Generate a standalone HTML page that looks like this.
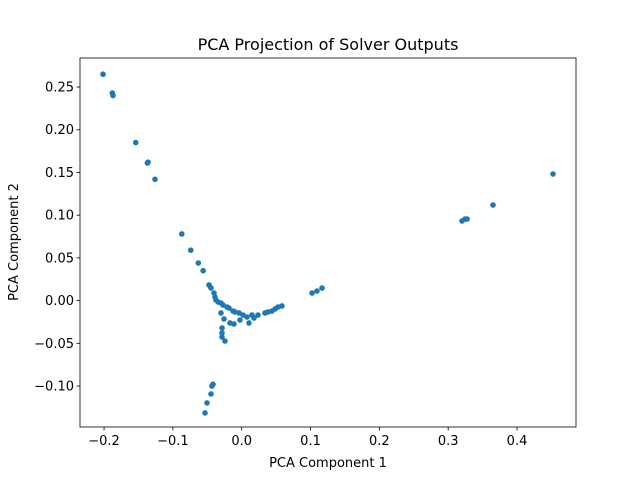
<!DOCTYPE html>
<html><head><meta charset="utf-8"><style>
body{margin:0;background:#fff;}
svg{display:block;font-family:"DejaVu Sans","Liberation Sans",sans-serif;}
</style></head><body>
<svg id="chart" width="640" height="480"></svg>
<script>
const xs=[-0.2015,-0.188,-0.187,-0.154,-0.137,-0.136,-0.126,-0.087,-0.074,-0.063,-0.056,-0.0475,-0.0446,-0.0402,-0.0388,-0.0374,-0.0344,-0.0301,-0.0272,-0.0214,-0.0185,-0.0126,-0.0097,-0.0039,0.0019,0.0077,0.0149,0.0179,0.0237,0.0339,0.0383,0.0440,0.0484,0.0527,0.0585,-0.0301,-0.0257,-0.0170,-0.0112,-0.0025,0.0106,-0.0286,-0.0286,-0.0286,-0.0243,0.1022,0.1094,0.1167,-0.0417,-0.0432,-0.0446,-0.0504,-0.0533,0.3201,0.3245,0.3274,0.3651,0.4523];
const ys=[0.265,0.243,0.240,0.185,0.161,0.162,0.142,0.078,0.059,0.044,0.035,0.0183,0.0147,0.0089,0.0042,0.0007,-0.0016,-0.0028,-0.0052,-0.0075,-0.0087,-0.0122,-0.0133,-0.0145,-0.0169,-0.0192,-0.0169,-0.0204,-0.0169,-0.0145,-0.0133,-0.0122,-0.0098,-0.0075,-0.0063,-0.0145,-0.0215,-0.0262,-0.0274,-0.0227,-0.0262,-0.0321,-0.0379,-0.0426,-0.0473,0.0089,0.0112,0.0147,-0.0980,-0.1000,-0.1093,-0.1198,-0.1315,0.0932,0.0955,0.0955,0.1119,0.1482];
const xTicks=[-0.2,-0.1,0.0,0.1,0.2,0.3,0.4];
const xTickLabels=["−0.2","−0.1","0.0","0.1","0.2","0.3","0.4"];
const yTicks=[-0.10,-0.05,0.00,0.05,0.10,0.15,0.20,0.25];
const yTickLabels=["−0.10","−0.05","0.00","0.05","0.10","0.15","0.20","0.25"];
const NS="http://www.w3.org/2000/svg";
const svg=document.getElementById('chart');
const L=80,R=576,T=58,B=427;
const sx=v=>241.7+v*688.3, sy=v=>300.6-v*854.3;
function mk(tag,attrs,parent){const e=document.createElementNS(NS,tag);for(const k in attrs)e.setAttribute(k,attrs[k]);(parent||svg).appendChild(e);return e;}
const pts=mk('g',{});


xs.forEach((x,i)=>{const c=mk('circle',{cx:sx(x),cy:sy(ys[i]),r:2.8,fill:'#1f77b4'},pts);

});
const frame=mk('rect',{x:L,y:T,width:R-L,height:B-T,fill:'none',stroke:'#000','stroke-width':0.8});


xTicks.forEach((t,i)=>{const x=sx(t);mk('line',{x1:x,x2:x,y1:B,y2:B+3.5,stroke:'#000','stroke-width':0.8});
const tx=mk('text',{x:x,y:B+18,'text-anchor':'middle','font-size':13});tx.textContent=xTickLabels[i];

});
yTicks.forEach((t,i)=>{const y=sy(t);mk('line',{x1:L-3.5,x2:L,y1:y,y2:y,stroke:'#000','stroke-width':0.8});
const tx=mk('text',{x:L-6,y:y+4.5,'text-anchor':'end','font-size':13});tx.textContent=yTickLabels[i];

});
const title=mk('text',{x:328,y:50,'text-anchor':'middle','font-size':16});title.textContent='PCA Projection of Solver Outputs';


const xl=mk('text',{x:328,y:467,'text-anchor':'middle','font-size':13});xl.textContent='PCA Component 1';


const yl=mk('text',{x:18,y:242,'text-anchor':'middle','font-size':13,transform:'rotate(-90 18 242)'});yl.textContent='PCA Component 2';


</script>
</body></html>
